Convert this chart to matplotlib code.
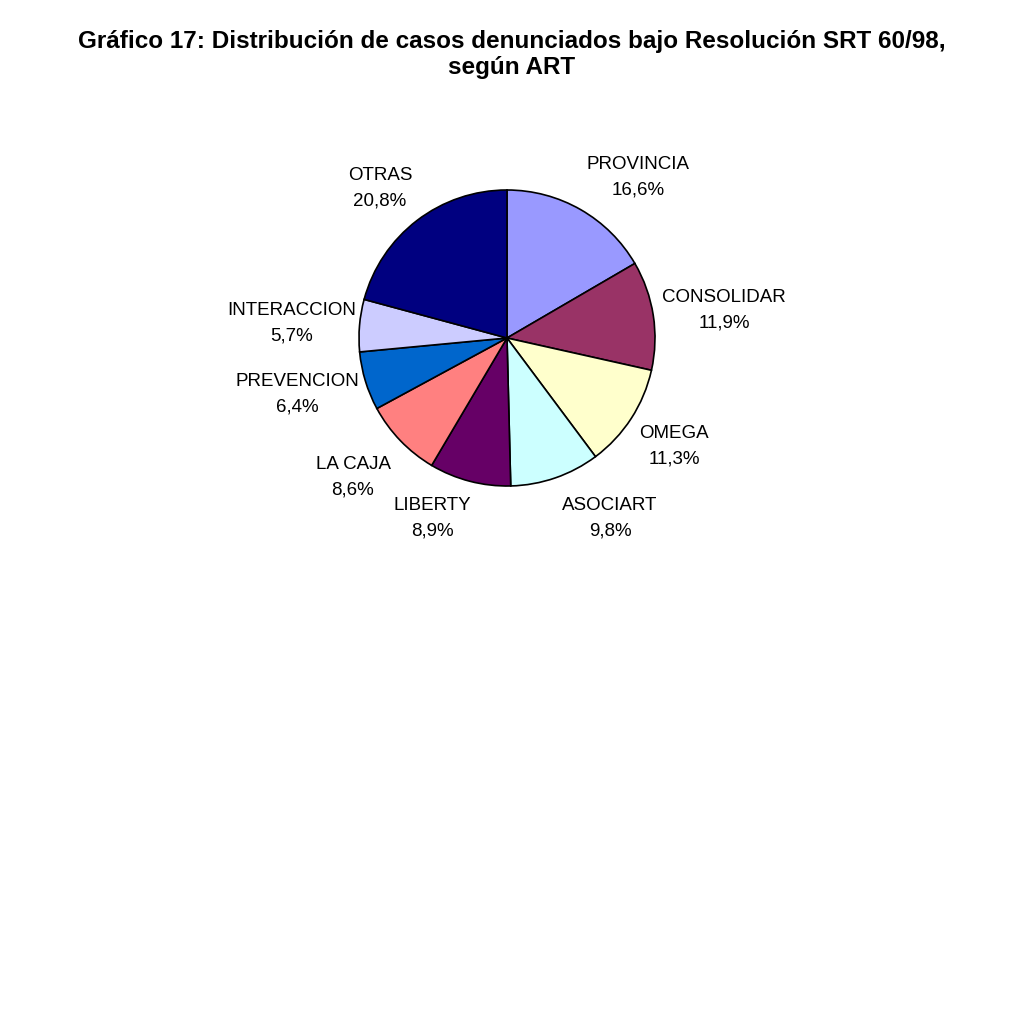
import matplotlib
matplotlib.use("Agg")
import matplotlib.pyplot as plt

# ART names and share of denounced cases (%), clockwise from the top
labels = ["PROVINCIA", "CONSOLIDAR", "OMEGA", "ASOCIART", "LIBERTY",
          "LA CAJA", "PREVENCION", "INTERACCION", "OTRAS"]
shares = [16.6, 11.9, 11.3, 9.8, 8.9, 8.6, 6.4, 5.7, 20.8]
colors = ["#9999FF", "#993366", "#FFFFCC", "#CCFFFF", "#660066",
          "#FF8080", "#0066CC", "#CCCCFF", "#000080"]

# where each label block sits (pixels from top-left)
label_xy = [(638, 177), (724, 310), (674, 446), (610, 518), (432, 518),
            (353, 477), (297, 394), (292, 323), (380, 188)]

plt.rcParams['font.family'] = ['Liberation Sans', 'DejaVu Sans']

fig = plt.figure(figsize=(10.24, 10.24), dpi=100)
ax = fig.add_axes([0, 0, 1, 1])

cx, cy, r = 507, 1024 - 338, 148
wedges, _ = ax.pie(shares, colors=colors, startangle=90, counterclock=False,
                   center=(cx, cy), radius=r,
                   wedgeprops=dict(edgecolor='black', linewidth=1.2))
# pie() resets the limits, so set them afterwards
ax.set_xlim(0, 1024)
ax.set_ylim(0, 1024)
ax.set_aspect('equal')
ax.axis('off')

for (x, y), lab, s in zip(label_xy, labels, shares):
    txt = f"{lab}\n{s:.1f}%".replace(".", ",")
    ax.text(x, 1024 - y, txt, ha='center', va='center', fontsize=13.5,
            linespacing=1.68)

fig.text(0.5, 0.947, "Gráfico 17: Distribución de casos denunciados bajo Resolución SRT 60/98,\nsegún ART",
         ha='center', va='center', fontsize=17.5, fontweight='bold',
         linespacing=1.15)

fig.savefig("out.png", dpi=100, facecolor='white')
